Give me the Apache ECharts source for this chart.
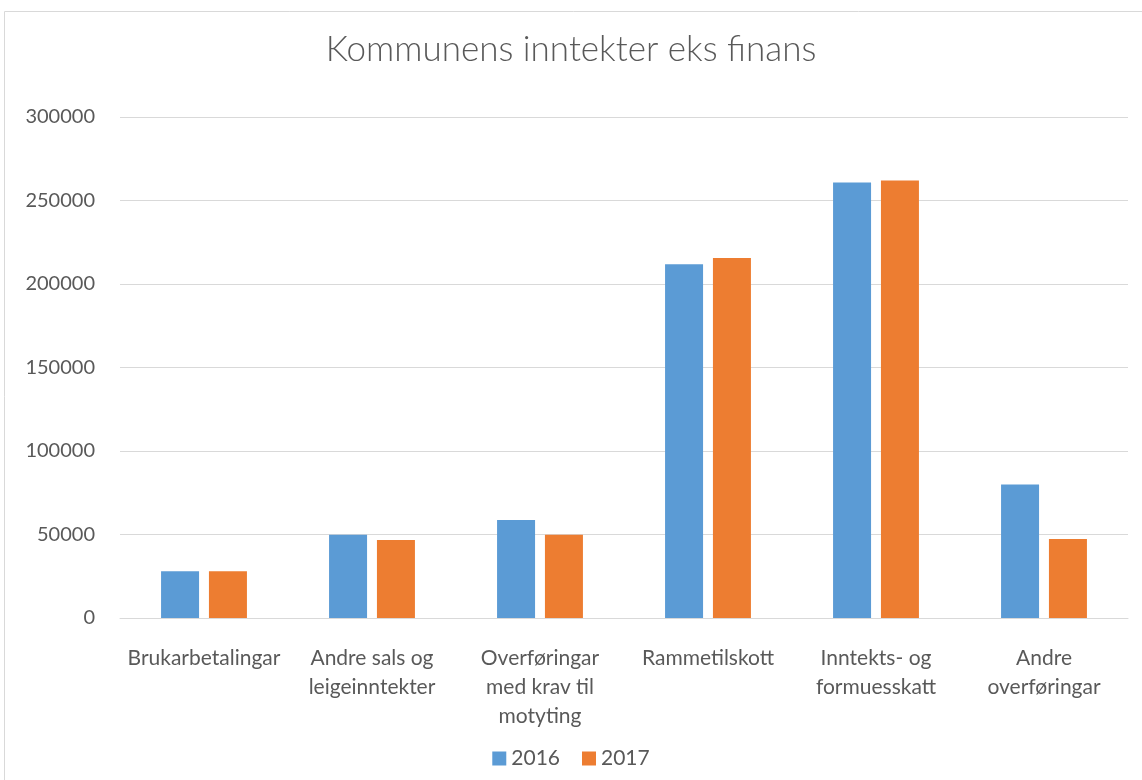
<!DOCTYPE html>
<html>
<head>
<meta charset="UTF-8">
<title>Kommunens inntekter eks finans</title>
<script src="https://cdn.jsdelivr.net/npm/echarts@6/dist/echarts.min.js"></script>
</head>
<body style="margin:0;background:#fff;">
	<div id="main" style="width:1142px;height:780px;"></div>
	<script type="text/javascript">
		// data
		var categories = ['Brukarbetalingar', 'Andre sals og\nleigeinntekter', 'Overføringar\nmed krav til\nmotyting', 'Rammetilskott', 'Inntekts- og\nformuesskatt', 'Andre\noverføringar'];
		var years = ['2016', '2017'];
		var values2016 = [28000, 49900, 58700, 211900, 260800, 80000];
		var values2017 = [28000, 46700, 49800, 215500, 262000, 47300];

		var font = 'Lato, "Open Sans", sans-serif';
		var myChart = echarts.init(document.getElementById('main'));
		var option = {
			color: ['#5b9bd5', '#ed7d31'],
			graphic: [{
				type: 'rect',
				shape: {x: 4.5, y: 11.5, width: 1160, height: 800},
				style: {fill: 'none', stroke: '#d9d9d9', lineWidth: 1}
			}],
			title: {
				text: 'Kommunens inntekter eks finans',
				left: 'center',
				top: 27,
				textStyle: {fontFamily: font, fontSize: 35, fontWeight: 300, color: '#595959'}
			},
			legend: {
				data: years,
				bottom: 6,
				left: 'center',
				icon: 'rect',
				itemWidth: 14,
				itemHeight: 14,
				itemGap: 22,
				textStyle: {fontFamily: font, fontSize: 21, color: '#595959'}
			},
			grid: {left: 120, right: 14, top: 117, bottom: 162, containLabel: false},
			xAxis: {
				type: 'category',
				data: categories,
				axisLine: {lineStyle: {color: '#d9d9d9', width: 1}},
				axisTick: {show: false},
				axisLabel: {fontFamily: font, fontSize: 21, color: '#595959', margin: 26, lineHeight: 29, interval: 0}
			},
			yAxis: {
				type: 'value',
				min: 0,
				max: 300000,
				interval: 50000,
				axisLine: {show: false},
				axisTick: {show: false},
				splitLine: {lineStyle: {color: '#d9d9d9', width: 1}},
				axisLabel: {fontFamily: font, fontSize: 20, color: '#595959', margin: 25, formatter: function (v) { return String(v); }}
			},
			series: [
				{name: years[0], type: 'bar', data: values2016, barWidth: 38, barGap: '26%'},
				{name: years[1], type: 'bar', data: values2017, barWidth: 38, barGap: '26%'}
			]
		};
		myChart.setOption(option);
	</script>
</body>
</html>
